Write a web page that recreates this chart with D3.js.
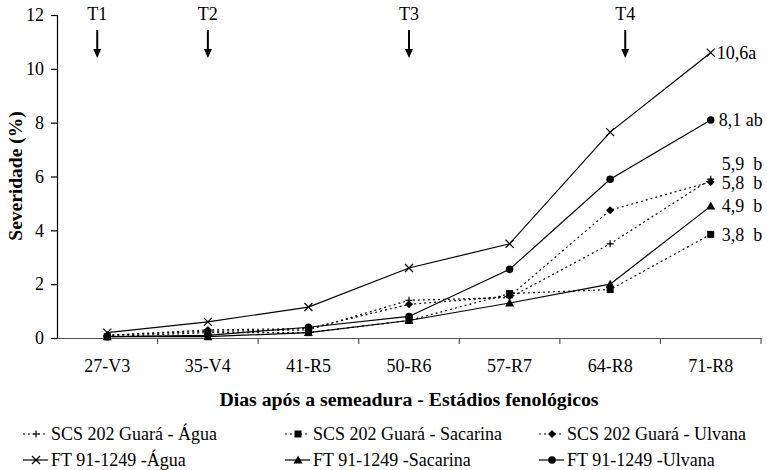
<!doctype html>
<html>
<head>
<meta charset="UTF-8">
<title>Severidade</title>
<script src="https://d3js.org/d3.v7.min.js"></script>
<style>
  body { margin: 0; background: #fff; }
  svg text { font-family: "Liberation Serif", "Times New Roman", serif; fill: #000; }
</style>
</head>
<body>
<script>
// data
var categories = ["27-V3", "35-V4", "41-R5", "50-R6", "57-R7", "64-R8", "71-R8"];
var scsAgua     = [0.1, 0.25, 0.3, 1.4, 1.5, 3.5, 5.9];
var scsSacarina = [0.05, 0.2, 0.2, 0.65, 1.65, 1.8, 3.85];
var scsUlvana   = [0.1, 0.3, 0.35, 1.25, 1.55, 4.75, 5.8];
var ftAgua      = [0.2, 0.6, 1.15, 2.6, 3.5, 7.65, 10.6];
var ftSacarina  = [0.05, 0.05, 0.2, 0.65, 1.3, 2.0, 4.9];
var ftUlvana    = [0.05, 0.1, 0.4, 0.8, 2.55, 5.9, 8.1];
var seriesNames = ["SCS 202 Guará - Água", "SCS 202 Guará - Sacarina", "SCS 202 Guará - Ulvana",
                   "FT 91-1249 -Água", "FT 91-1249 -Sacarina", "FT 91-1249 -Ulvana"];
var endLabels = ["5,9  b", "3,8  b", "5,8  b", "10,6a", "4,9  b", "8,1 ab"];
var yTicks = [0, 2, 4, 6, 8, 10, 12];
var treatments = ["T1", "T2", "T3", "T4"];
var treatmentAt = [-0.1, 1, 3, 5.15]; // position in category units

var W = 767, H = 470;
var mLeft = 57, mRight = 761, mTop = 15, mBottom = 338;
var fs = "18px";

var svg = d3.select("body").append("svg").attr("width", W).attr("height", H);

var x = d3.scaleBand().domain(categories).range([mLeft, mRight]);
var xc = function (c) { return x(c) + x.bandwidth() / 2; };
var xi = d3.scaleLinear().domain([0, categories.length - 1])
  .range([xc(categories[0]), xc(categories[categories.length - 1])]);
var y = d3.scaleLinear().domain([0, 12]).range([mBottom, mTop]);

// y axis
var yAxis = svg.append("g").attr("transform", "translate(" + mLeft + ",0)")
  .call(d3.axisLeft(y).tickValues(yTicks).tickSize(6).tickPadding(7));
yAxis.attr("font-family", null).attr("font-size", null);
yAxis.selectAll("path, line").attr("stroke", "#000").attr("stroke-width", 1.2);
yAxis.selectAll("text").style("font-size", fs);

// x axis : labels centred, ticks on band boundaries
var xAxis = svg.append("g").attr("transform", "translate(0," + mBottom + ")")
  .call(d3.axisBottom(x).tickSize(0).tickPadding(21));
xAxis.attr("font-family", null).attr("font-size", null);
xAxis.select("path").attr("stroke", "#555").attr("stroke-width", 1.2);
xAxis.selectAll("text").style("font-size", fs);
var bounds = categories.map(function (c) { return x(c); }).concat([mRight]);
svg.append("g").selectAll("line").data(bounds.slice(1)).enter().append("line")
  .attr("x1", function (d) { return d; }).attr("x2", function (d) { return d; })
  .attr("y1", mBottom).attr("y2", mBottom + 6)
  .attr("stroke", "#555").attr("stroke-width", 1.2);

// axis titles
svg.append("text").attr("x", 409).attr("y", 406).attr("text-anchor", "middle")
  .style("font-size", "19.8px").style("font-weight", "bold")
  .text("Dias após a semeadura - Estádios fenológicos");
svg.append("text").attr("transform", "translate(22,176) rotate(-90)")
  .attr("text-anchor", "middle").style("font-size", "19.5px").style("font-weight", "bold")
  .text("Severidade (%)");

// treatment arrows
var tg = svg.append("g").selectAll("g").data(treatments).enter().append("g")
  .attr("transform", function (d, i) { return "translate(" + xi(treatmentAt[i]) + ",0)"; });
tg.append("text").attr("y", 20).attr("text-anchor", "middle").style("font-size", fs)
  .text(function (d) { return d; });
tg.append("line").attr("y1", 30).attr("y2", 50).attr("stroke", "#000").attr("stroke-width", 2);
tg.append("path").attr("d", "M-4,49L4,49L0,58Z").attr("fill", "#000");

// series
var values = [scsAgua, scsSacarina, scsUlvana, ftAgua, ftSacarina, ftUlvana];
var dashes = ["2,3", "2,3", "2,3", null, null, null];
var markers = ["plus", "square", "diamond", "cross", "triangle", "circle"];

function drawMarker(g, type) {
  if (type === "plus") {
    g.append("path").attr("d", "M-3.5,0H3.5M0,-3.5V3.5").attr("stroke", "#000").attr("stroke-width", 1.2);
  } else if (type === "cross") {
    g.append("path").attr("d", "M-4,-4L4,4M-4,4L4,-4").attr("stroke", "#000").attr("stroke-width", 1.2).attr("fill", "none");
  } else if (type === "square") {
    g.append("rect").attr("x", -3.5).attr("y", -3.5).attr("width", 7).attr("height", 7).attr("fill", "#000");
  } else if (type === "diamond") {
    g.append("path").attr("d", "M0,-4L4,0L0,4L-4,0Z").attr("fill", "#000");
  } else if (type === "triangle") {
    g.append("path").attr("d", "M0,-4.5L4.5,3.5L-4.5,3.5Z").attr("fill", "#000");
  } else {
    g.append("circle").attr("r", 3.8).attr("fill", "#000");
  }
}

var line = d3.line().x(function (d, i) { return xi(i); }).y(function (d) { return y(d); });

values.forEach(function (vals, s) {
  svg.append("path").datum(vals).attr("d", line).attr("fill", "none")
    .attr("stroke", "#000").attr("stroke-width", 1.2)
    .attr("stroke-dasharray", dashes[s]);
  svg.append("g").selectAll("g").data(vals).enter().append("g")
    .attr("transform", function (d, i) { return "translate(" + xi(i) + "," + y(d) + ")"; })
    .each(function () { drawMarker(d3.select(this), markers[s]); });
});

// labels at the end of the lines
var labelDx = [11, 11, 11, 6, 11, 8];
var labelDy = [-15, 0, 1, 0, 0, 0];
var last = categories.length - 1;
svg.append("g").selectAll("text").data(endLabels).enter().append("text")
  .attr("x", function (d, i) { return xi(last) + labelDx[i]; })
  .attr("y", function (d, i) { return y(values[i][last]) + labelDy[i]; })
  .attr("dy", "0.35em").style("font-size", fs).style("white-space", "pre")
  .text(function (d) { return d; });

// legend
var legX = [23, 285, 539];
var legY = [434, 460];
var leg = svg.append("g").selectAll("g").data(seriesNames).enter().append("g")
  .attr("transform", function (d, i) { return "translate(" + legX[i % 3] + "," + legY[Math.floor(i / 3)] + ")"; });
leg.append("line").attr("x1", 0).attr("x2", 25).attr("stroke", "#000").attr("stroke-width", 1.2)
  .attr("stroke-dasharray", function (d, i) { return dashes[i]; });
leg.append("g").attr("transform", "translate(13,0)")
  .each(function (d, i) { drawMarker(d3.select(this), markers[i]); });
leg.append("text").attr("x", 28).attr("dy", "0.35em").style("font-size", fs)
  .text(function (d) { return d; });
</script>
</body>
</html>
